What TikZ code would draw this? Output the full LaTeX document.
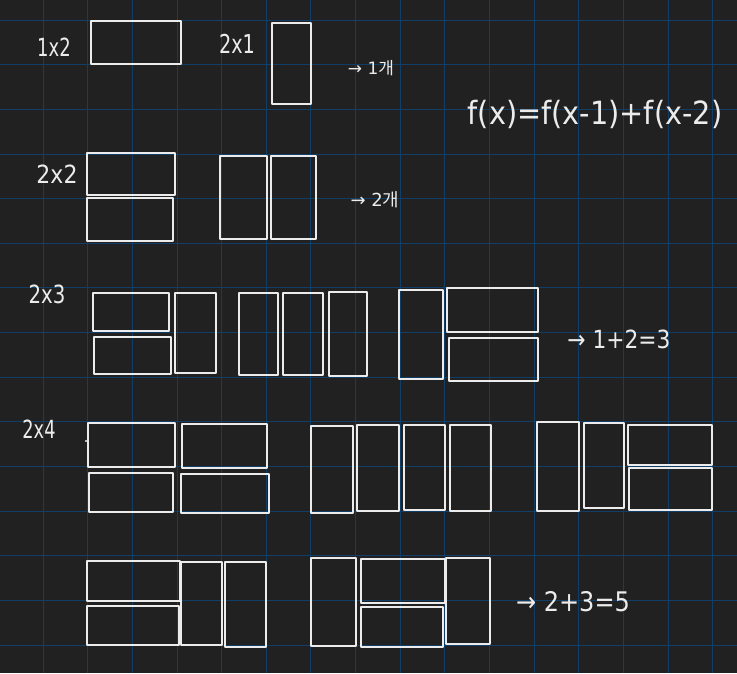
\documentclass[tikz,border=0pt]{standalone}
\usepackage{fontspec}
\setmainfont{DejaVu Sans}
\newfontfamily\kr{Noto Sans CJK KR}
\definecolor{bgc}{RGB}{33,33,33}
\definecolor{gridc}{RGB}{16,62,102}
\definecolor{ink}{RGB}{236,236,236}
\newcommand{\hw}[3]{\fontsize{#1}{#1}\selectfont\scalebox{#2}[1]{#3}}
\begin{document}
\begin{tikzpicture}[x=1pt,y=-1pt,
  tile/.style={draw=ink,line width=2.2pt,line join=round},
  lbl/.style={text=ink,inner sep=0pt,anchor=center}]
\fill[bgc] (0,0) rectangle (737,673);
\useasboundingbox (0,0) rectangle (737,673);
% grid
\foreach \k in {0,...,15} {\draw[gridc,line width=0.9pt] ({43+44.65*\k},0) -- ({43+44.65*\k},673);}
\foreach \k in {0,...,14} {\draw[gridc,line width=0.9pt] (0,{20+44.65*\k}) -- (737,{20+44.65*\k});}

% row 1
\node[lbl] (l12) at (54,47) {\hw{25}{0.72}{1x2}};
\draw[tile] (91,21) rectangle (181,64);
\node[lbl] (l21) at (237,44) {\hw{26}{0.74}{2x1}};
\draw[tile] (272,23) rectangle (311,104);
\node[lbl] (r1) at (371,68) {\hw{17}{1}{→ 1{\kr 개}}};
\node[lbl] (fx) at (595,114) {\hw{32}{0.9}{f(x)=f(x-1)+f(x-2)}};

% row 2
\node[lbl] (l22) at (57,174) {\hw{25}{0.88}{2x2}};
\draw[tile] (87,153) rectangle (175,195);
\draw[tile] (87,198) rectangle (173,241);
\draw[tile] (220,156) rectangle (267,239);
\draw[tile] (271,156) rectangle (316,239);
\node[lbl] (r2) at (375,200) {\hw{18}{1}{→ 2{\kr 개}}};

% row 3
\node[lbl] (l23) at (47,294) {\hw{25}{0.79}{2x3}};
\draw[tile] (93,293) rectangle (169,331);
\draw[tile] (94,337) rectangle (171,374);
\draw[tile] (175,293) rectangle (216,373);
\draw[tile] (239,293) rectangle (278,375);
\draw[tile] (283,293) rectangle (323,375);
\draw[tile] (329,292) rectangle (367,376);
\draw[tile] (399,290) rectangle (443,379);
\draw[tile] (447,288) rectangle (538,332);
\draw[tile] (449,338) rectangle (538,381);
\node[lbl] (r3) at (619,339) {\hw{25}{0.87}{→ 1+2=3}};

% row 4
\node[lbl] (l24) at (39,429) {\hw{25}{0.71}{2x4}};
\fill[ink] (86,441) circle (1.2);
\draw[tile] (88,423) rectangle (175,467);
\draw[tile] (182,424) rectangle (267,468);
\draw[tile] (89,473) rectangle (173,512);
\draw[tile] (181,474) rectangle (269,513);
\draw[tile] (311,426) rectangle (353,513);
\draw[tile] (357,425) rectangle (399,511);
\draw[tile] (404,425) rectangle (445,510);
\draw[tile] (450,425) rectangle (491,511);
\draw[tile] (537,422) rectangle (579,511);
\draw[tile] (584,423) rectangle (624,508);
\draw[tile] (628,425) rectangle (712,465);
\draw[tile] (629,468) rectangle (712,510);

% row 5
\draw[tile] (87,561) rectangle (180,601);
\draw[tile] (87,606) rectangle (179,645);
\draw[tile] (181,562) rectangle (222,645);
\draw[tile] (225,562) rectangle (266,647);
\draw[tile] (311,558) rectangle (356,646);
\draw[tile] (361,559) rectangle (445,603);
\draw[tile] (361,607) rectangle (443,647);
\draw[tile] (446,558) rectangle (490,644);
\node[lbl] (r5) at (573,602) {\hw{27}{0.89}{→ 2+3=5}};
\end{tikzpicture}
\end{document}
